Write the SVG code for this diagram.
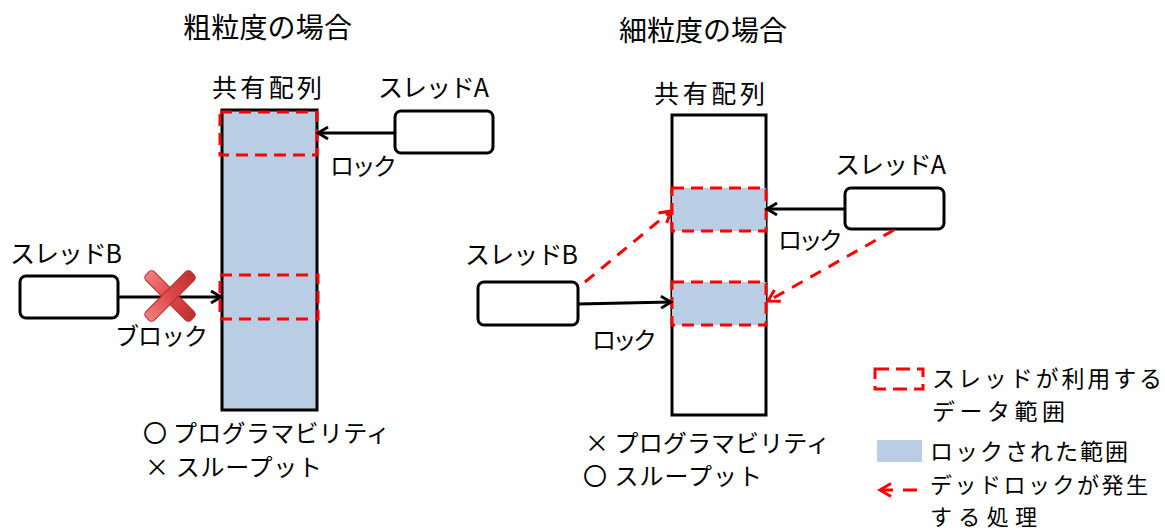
<svg xmlns="http://www.w3.org/2000/svg" width="1165" height="532" viewBox="0 0 1165 532">
<defs>
<style>
text{font-family:"Noto Sans CJK JP","Noto Sans",sans-serif;fill:#000;}
.t{font-size:28px;}
.m{font-size:25px;}
.s{font-size:24px;}
.l{font-size:23px;}
.l2{font-size:22px;}
.box{fill:#fff;stroke:#000;stroke-width:3;}
.arr{fill:none;stroke:#000;stroke-width:2.8;}
.dl{fill:none;stroke:#ff0000;stroke-width:3;stroke-dasharray:12 7;}
.da{fill:none;stroke:#ff0000;stroke-width:3;stroke-dasharray:12 9;}
.blue{fill:#b9cde4;}
</style>
<marker id="ah" markerWidth="14" markerHeight="14" refX="12" refY="7" orient="auto" markerUnits="userSpaceOnUse">
<path d="M2,1 L12,7 L2,13" fill="none" stroke="#000" stroke-width="2.8"/>
</marker>
<marker id="rh" markerWidth="16" markerHeight="16" refX="13" refY="8" orient="auto" markerUnits="userSpaceOnUse">
<path d="M2,1.5 L13,8 L2,14.5" fill="none" stroke="#ff0000" stroke-width="3"/>
</marker>
<linearGradient id="xg" x1="0" y1="0" x2="1" y2="0">
<stop offset="0" stop-color="#f08080"/>
<stop offset="0.5" stop-color="#e04848"/>
<stop offset="1" stop-color="#c03030"/>
</linearGradient>
</defs>

<text class="t" x="183" y="38" textLength="169" lengthAdjust="spacing">粗粒度の場合</text>
<text class="t" x="619" y="41" textLength="168" lengthAdjust="spacing">細粒度の場合</text>

<g id="coarse-array">
<text class="m" x="212" y="97" textLength="110" lengthAdjust="spacing">共有配列</text>
<rect x="222" y="110" width="95" height="300" fill="#b9cde4" stroke="#000" stroke-width="3"/>
<rect class="dl" x="220" y="112" width="97" height="43"/>
<rect class="dl" x="220" y="275" width="98" height="44"/>
</g>

<g id="coarse-threadA">
<text class="m" x="378" y="97" textLength="111" lengthAdjust="spacing">スレッドA</text>
<rect class="box" x="395" y="111" width="98" height="42" rx="6"/>
</g>

<g id="coarse-threadB">
<text class="m" x="10" y="263" textLength="112" lengthAdjust="spacing">スレッドB</text>
<rect class="box" x="20" y="276" width="98" height="42" rx="6"/>
</g>

<g id="coarse-notes">
<text class="s" x="143" y="442" textLength="247" lengthAdjust="spacing">〇 プログラマビリティ</text>
<text class="s" x="145" y="476" textLength="177" lengthAdjust="spacing">× スループット</text>
</g>

<g id="fine-array">
<text class="m" x="654" y="103" textLength="111" lengthAdjust="spacing">共有配列</text>
<rect class="box" x="672" y="115" width="94" height="300"/>
<rect class="blue" x="672" y="188" width="94" height="43"/>
<rect class="blue" x="672" y="282" width="94" height="43"/>
<rect class="dl" x="672" y="188" width="94" height="43"/>
<rect class="dl" x="672" y="282" width="94" height="43"/>
</g>

<g id="fine-threadA">
<text class="m" x="835" y="174" textLength="111" lengthAdjust="spacing">スレッドA</text>
<rect class="box" x="845" y="188" width="99" height="41" rx="6"/>
</g>

<g id="fine-threadB">
<text class="m" x="465" y="264" textLength="113" lengthAdjust="spacing">スレッドB</text>
<rect class="box" x="478" y="282" width="100" height="43" rx="6"/>
</g>

<g id="fine-notes">
<text class="s" x="585" y="452" textLength="245" lengthAdjust="spacing">× プログラマビリティ</text>
<text class="s" x="583" y="485" textLength="179" lengthAdjust="spacing">〇 スループット</text>
</g>

<g id="connectors">
<line class="arr" x1="395" y1="133" x2="318" y2="133" marker-end="url(#ah)"/>
<text class="s" x="330" y="175" textLength="67" lengthAdjust="spacing">ロック</text>
<line class="arr" x1="118" y1="297" x2="221" y2="297" marker-end="url(#ah)"/>
<text class="s" x="115" y="345" textLength="93" lengthAdjust="spacing">ブロック</text>
<g id="block-x" transform="translate(170,296)">
<rect x="-32" y="-6" width="64" height="12" rx="4" fill="url(#xg)" stroke="#b03030" stroke-width="1" transform="rotate(45)"/>
<rect x="-32" y="-6" width="64" height="12" rx="4" fill="url(#xg)" stroke="#b03030" stroke-width="1" transform="rotate(-45)"/>
</g>
<line class="arr" x1="845" y1="209" x2="767" y2="209" marker-end="url(#ah)"/>
<text class="s" x="778" y="249" textLength="65" lengthAdjust="spacing">ロック</text>
<line class="arr" x1="578" y1="304" x2="671" y2="302" marker-end="url(#ah)"/>
<text class="s" x="592" y="349" textLength="65" lengthAdjust="spacing">ロック</text>
<line class="da" x1="585" y1="282" x2="671" y2="211" marker-end="url(#rh)"/>
<line class="da" x1="894" y1="230" x2="768" y2="301" marker-end="url(#rh)"/>
</g>

<g id="legend">
<rect class="dl" x="875" y="369" width="48" height="20" style="stroke-dasharray:14 7"/>
<text class="l" x="932" y="387" textLength="230" lengthAdjust="spacing">スレッドが利用する</text>
<text class="l" x="932" y="420" textLength="133" lengthAdjust="spacing">データ範囲</text>
<rect class="blue" x="877" y="440" width="45" height="22"/>
<text class="l" x="930" y="460" textLength="198" lengthAdjust="spacing">ロックされた範囲</text>
<line x1="917" y1="490" x2="880" y2="490" stroke="#ff0000" stroke-width="3" stroke-dasharray="14 10" marker-end="url(#rh)"/>
<text class="l2" x="930" y="493" textLength="218" lengthAdjust="spacing">デッドロックが発生</text>
<text class="l2" x="930" y="525" textLength="107" lengthAdjust="spacing">する処理</text>
</g>
</svg>
